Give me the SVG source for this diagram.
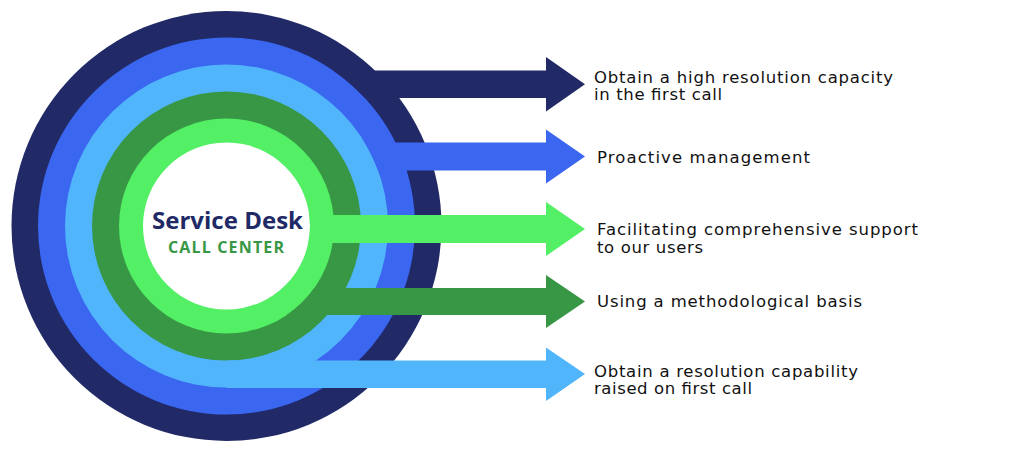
<svg xmlns="http://www.w3.org/2000/svg" width="1009" height="453" viewBox="0 0 1009 453">
  <style>
    .navy{fill:#212A66}
    .blue{fill:#3A66F0}
    .lblue{fill:#51B5FB}
    .dgreen{fill:#389745}
    .lgreen{fill:#53EF65}
    .white{fill:#FFFFFF}
    .lbl{font-family:"DejaVu Sans","Liberation Sans",sans-serif;font-size:16.5px;fill:#111111}
    .title{font-family:"Open Sans","Liberation Sans",sans-serif;font-weight:bold;font-size:24px;fill:#212A66}
    .sub{font-family:"Open Sans","Liberation Sans",sans-serif;font-weight:bold;font-size:16px;fill:#389745}
  </style>
  <rect width="1009" height="453" fill="#FFFFFF"/>
  <g id="service-desk">
    <circle class="navy" cx="226.5" cy="226" r="215"/>
    <circle class="blue" cx="226.5" cy="226" r="188.5"/>
    <circle class="lblue" cx="226.5" cy="226" r="161.5"/>
    <circle class="dgreen" cx="226.5" cy="226" r="134.5"/>
    <circle class="lgreen" cx="226.5" cy="226" r="107.5"/>
    <circle class="white" cx="226.5" cy="226" r="83.5"/>
    <text class="title" x="227.5" y="229" text-anchor="middle" textLength="151">Service Desk</text>
    <text class="sub" x="226" y="253" text-anchor="middle" textLength="116">CALL CENTER</text>
  </g>
  <g id="connectors">
    <path class="navy" d="M333,70.5 H546 V57 L585,84.25 L546,111.5 V98 H364.9 A188.5,188.5 0 0 0 333,70.5 Z"/>
    <path class="blue" d="M364.7,142.5 H546 V129.5 L585,156.5 L546,183.5 V170.5 H378.2 A161.5,161.5 0 0 0 364.7,142.5 Z"/>
    <path class="lgreen" d="M309.3,215 H546 V202 L585,229 L546,256 V243 H308.25 A83.5,83.5 0 0 0 309.3,215 Z"/>
    <path class="dgreen" d="M314.3,288 H546 V275 L585,301.5 L546,328 V315 H286.8 A107.5,107.5 0 0 0 314.3,288 Z"/>
    <path class="lblue" d="M226.5,360.5 H546 V347.5 L585,374 L546,401 V388 H226.5 Z"/>
  </g>
  <g id="goal-1">
    <text class="lbl" x="594" y="83" textLength="299">Obtain a high resolution capacity</text>
    <text class="lbl" x="594" y="100.3" textLength="128">in the first call</text>
  </g>
  <g id="goal-2">
    <text class="lbl" x="597" y="162.7" textLength="213">Proactive management</text>
  </g>
  <g id="goal-3">
    <text class="lbl" x="597" y="235" textLength="321">Facilitating comprehensive support</text>
    <text class="lbl" x="597" y="252.5" textLength="106">to our users</text>
  </g>
  <g id="goal-4">
    <text class="lbl" x="597" y="307.3" textLength="265">Using a methodological basis</text>
  </g>
  <g id="goal-5">
    <text class="lbl" x="594" y="376.7" textLength="264">Obtain a resolution capability</text>
    <text class="lbl" x="594" y="393.8" textLength="158">raised on first call</text>
  </g>
</svg>
